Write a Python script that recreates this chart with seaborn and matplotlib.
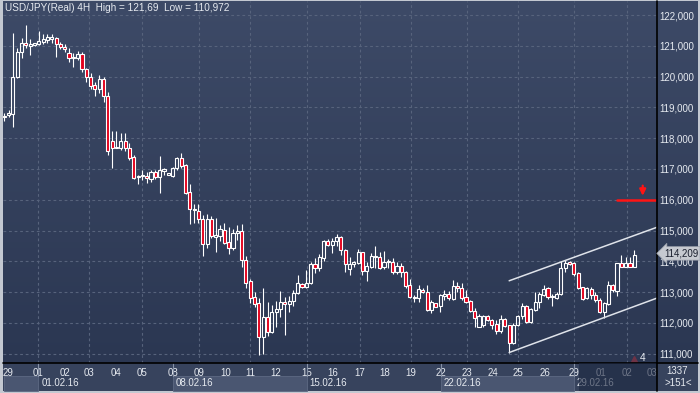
import numpy as np
import pandas as pd
import matplotlib
matplotlib.use('Agg')
import matplotlib.pyplot as plt
from matplotlib.patches import Rectangle
from matplotlib.colors import LinearSegmentedColormap
from matplotlib.transforms import blended_transform_factory
import seaborn as sns

# ---- USD/JPY 4H candles ----
opens = [118.72, 118.75, 118.78, 120.00, 120.81, 121.10, 121.00, 121.03, 121.05, 121.13,
         121.20, 121.22, 121.24, 121.05, 120.97, 120.76, 120.60, 120.61, 120.72, 120.25,
         119.98, 119.73, 119.59, 119.92, 119.38, 117.91, 117.69, 117.69, 117.91, 117.69,
         117.39, 116.74, 116.76, 116.78, 116.68, 116.89, 116.75, 116.95, 116.81, 116.78,
         117.02, 117.35, 117.13, 116.24, 115.69, 115.65, 115.37, 114.56, 115.37, 114.80,
         114.82, 115.02, 114.62, 114.43, 114.91, 114.99, 114.05, 113.36, 112.85, 112.64,
         111.56, 112.18, 111.72, 112.35, 112.44, 112.69, 112.62, 112.72, 112.96, 113.27,
         113.16, 113.29, 113.92, 113.80, 114.12, 114.66, 114.53, 114.66, 114.80, 114.37,
         113.74, 113.90, 113.96, 114.29, 113.70, 113.83, 114.13, 114.15, 113.81, 113.97,
         113.99, 113.64, 113.85, 113.67, 113.23, 112.80, 112.82, 113.07, 113.02, 112.42,
         112.64, 112.56, 112.88, 112.94, 112.78, 113.20, 113.15, 112.83, 112.71, 112.40,
         111.88, 111.94, 112.21, 112.10, 111.97, 111.75, 112.12, 111.94, 111.34, 111.94,
         112.21, 112.55, 112.04, 112.42, 112.69, 112.91, 113.13, 112.83, 112.80, 112.93,
         113.77, 113.99, 113.96, 113.61, 113.16, 112.80, 113.09, 112.91, 112.75, 112.34,
         112.62, 113.23, 113.05, 113.94, 113.83, 113.96, 113.83]
highs = [118.83, 118.92, 121.41, 120.92, 121.24, 121.69, 121.22, 121.10, 121.48, 121.37,
         121.37, 121.37, 121.30, 121.13, 121.05, 120.92, 120.76, 120.83, 120.81, 120.29,
         120.11, 119.83, 120.05, 120.00, 119.51, 118.23, 118.23, 118.16, 118.16, 117.83,
         117.45, 116.81, 116.97, 116.91, 116.97, 116.97, 117.42, 117.02, 116.87, 117.05,
         117.40, 117.51, 117.15, 116.51, 115.86, 115.86, 115.51, 115.54, 115.47, 115.40,
         115.18, 115.26, 115.11, 115.04, 115.18, 115.21, 114.18, 113.42, 113.02, 112.80,
         113.13, 112.67, 112.58, 112.71, 113.04, 112.85, 112.88, 113.07, 113.56, 113.29,
         113.72, 113.99, 114.12, 114.24, 114.69, 114.72, 114.75, 114.89, 114.82, 114.39,
         114.15, 114.02, 114.39, 114.32, 113.99, 114.28, 114.50, 114.32, 114.35, 114.07,
         114.10, 113.99, 113.96, 113.69, 113.42, 112.91, 113.23, 113.13, 113.23, 112.75,
         112.66, 112.94, 113.07, 113.05, 113.40, 113.32, 113.29, 113.07, 112.75, 112.48,
         112.29, 112.26, 112.26, 112.12, 112.10, 112.26, 112.15, 111.95, 111.99, 112.26,
         112.66, 112.58, 112.48, 112.99, 113.02, 113.23, 113.16, 112.94, 113.02, 114.02,
         114.05, 114.02, 113.99, 113.67, 113.18, 113.16, 113.16, 112.99, 112.80, 112.69,
         113.37, 113.27, 113.96, 114.21, 114.13, 114.15, 114.37]
lows = [118.57, 118.70, 118.37, 119.94, 120.59, 120.92, 120.70, 121.00, 121.03, 121.05,
        121.08, 121.08, 120.65, 120.90, 120.81, 120.48, 120.32, 120.54, 120.16, 119.83,
        119.60, 119.38, 119.46, 119.19, 117.45, 117.04, 117.68, 117.62, 117.60, 117.29,
        116.68, 116.50, 116.64, 116.54, 116.59, 116.68, 116.23, 116.81, 116.80, 116.75,
        116.97, 117.02, 116.20, 115.21, 115.26, 115.24, 114.18, 114.43, 114.75, 114.32,
        114.65, 114.56, 114.24, 114.37, 114.69, 113.83, 113.13, 112.66, 112.53, 110.97,
        110.99, 111.58, 111.68, 111.88, 112.20, 111.61, 112.37, 112.55, 112.94, 113.14,
        113.14, 113.27, 113.61, 113.69, 114.02, 114.50, 114.28, 114.50, 114.21, 113.64,
        113.56, 113.81, 113.92, 113.56, 113.37, 113.80, 113.80, 113.74, 113.74, 113.80,
        113.59, 113.59, 113.48, 113.15, 112.80, 112.69, 112.69, 112.96, 112.39, 112.31,
        112.51, 112.37, 112.75, 112.75, 112.75, 113.02, 112.75, 112.66, 112.34, 111.86,
        111.86, 111.88, 112.06, 111.79, 111.64, 111.69, 111.88, 111.04, 111.32, 111.90,
        112.12, 112.01, 112.01, 112.40, 112.48, 112.88, 112.77, 112.55, 112.77, 112.91,
        113.67, 113.88, 113.53, 113.09, 112.75, 112.77, 112.77, 112.69, 112.31, 112.15,
        112.58, 113.02, 112.88, 113.81, 113.81, 113.81, 113.81]
closes = [118.70, 118.81, 120.00, 120.81, 121.08, 121.03, 121.06, 121.08, 121.16, 121.21,
          121.28, 121.27, 121.05, 120.97, 120.90, 120.59, 120.63, 120.72, 120.24, 119.98,
          119.69, 119.59, 119.92, 119.38, 117.59, 117.69, 117.70, 117.91, 117.69, 117.37,
          116.72, 116.77, 116.79, 116.70, 116.89, 116.75, 116.98, 116.99, 116.86, 117.02,
          117.35, 117.11, 116.23, 115.69, 115.66, 115.37, 114.56, 115.37, 114.82, 114.85,
          115.04, 114.61, 114.43, 114.91, 114.99, 114.05, 113.31, 112.82, 112.62, 111.56,
          112.18, 111.72, 112.35, 112.44, 112.69, 112.62, 112.72, 112.96, 113.29, 113.16,
          113.29, 113.92, 113.80, 114.13, 114.66, 114.53, 114.66, 114.78, 114.37, 113.90,
          113.90, 113.99, 114.29, 113.70, 113.85, 114.18, 114.18, 113.77, 113.97, 114.00,
          113.64, 113.85, 113.64, 113.20, 112.85, 112.85, 113.09, 112.99, 112.42, 112.67,
          112.53, 112.91, 112.94, 112.80, 113.20, 113.13, 112.82, 112.69, 112.39, 112.15,
          112.23, 112.21, 112.10, 111.94, 111.75, 112.12, 111.91, 111.34, 111.94, 112.21,
          112.55, 112.04, 112.44, 112.69, 112.94, 113.09, 112.83, 112.85, 112.94, 113.77,
          113.96, 113.92, 113.59, 113.13, 112.77, 113.13, 112.91, 112.73, 112.34, 112.64,
          113.23, 113.07, 113.94, 113.83, 113.96, 113.83, 114.21]

# day labels on the time axis and where each day starts (candle index)
day_labels = ['29', '01', '02', '03', '04', '05', '08', '09', '10', '11', '12', '15', '16',
              '17', '18', '19', '22', '23', '24', '25', '26', '29', '01', '02', '03']
day_pos = [0.9, 7.9, 14.1, 19.7, 25.8, 31.8, 39.0, 45.1, 51.2, 56.9, 63.0, 70.1, 76.2,
           82.4, 88.2, 94.2, 101.1, 107.2, 113.2, 119.1, 125.3, 132.0, 138.2, 144.2, 150.0]
week_labels = ['01.02.16', '08.02.16', '15.02.16', '22.02.16', '29.02.16']
week_pos = [7.9, 39.0, 70.1, 101.1, 132.0]
price_ticks = list(range(111, 123))

# trend channel and resistance level drawn on the chart
channel_x = [117, 151.3]
channel_upper = [113.37, 115.11]
channel_lower = [111.04, 112.81]
level_x = [142.1, 151.3]
level_price = 116.0
last_price = 114.209

df = pd.DataFrame({'open': opens, 'high': highs, 'low': lows, 'close': closes})
df['idx'] = np.arange(len(df))
df['up'] = df['close'] >= df['open']
df['top'] = df[['open', 'close']].max(axis=1)
df['bot'] = df[['open', 'close']].min(axis=1)

# ---- style ----
sns.set_style('dark')
plt.rcParams['font.family'] = ['Liberation Sans', 'DejaVu Sans']
FS = 7.0
plt.rcParams['font.size'] = FS
TXT = '#e6eaf0'

W, H = 700, 393
fig = plt.figure(figsize=(7, 3.93), dpi=100, facecolor='#c3c8d1')

# background gradient behind plot + price panel
bg = fig.add_axes([3 / W, 1 - 363 / H, 695 / W, 362 / H], zorder=-2)
cmap = LinearSegmentedColormap.from_list('bg', ['#2b3752', '#3d4a67'])
bg.imshow(np.linspace(0, 1, 256).reshape(-1, 1)[::-1], aspect='auto', cmap=cmap,
          extent=[0, 1, 0, 1])
bg.axis('off')

# bottom time-axis band
fig.add_artist(Rectangle((3 / W, 1 - 391 / H), 695 / W, 28 / H, transform=fig.transFigure,
                         fc='#37435d', ec='none', zorder=-1))

ax = fig.add_axes([3 / W, 1 - 363 / H, 654 / W, 362 / H])
ax.set_facecolor('none')
ax.set_xlim(-0.30, 151.26)
ax.set_ylim(110.70, 122.455)

# grid
for xv in day_pos[1::2]:
    ax.axvline(xv, color='#57637c', lw=0.8, ls=(0, (2.5, 2.5)), zorder=1)
for yv in price_ticks:
    ax.axhline(yv, color='#57637c', lw=0.8, ls=(0, (2.5, 2.5)), zorder=1)

# candles: wicks above/below body, hollow up bodies, red down bodies
ax.vlines(df['idx'], df['top'], df['high'], color='white', lw=0.8, zorder=3)
ax.vlines(df['idx'], df['low'], df['bot'], color='white', lw=0.8, zorder=3)
body_h = np.maximum(df['top'] - df['bot'], 0.03)
ax.bar(df['idx'], body_h, bottom=df['bot'], width=0.72,
       color=np.where(df['up'], 'none', '#e3001b'), edgecolor='white', linewidth=0.8, zorder=4)

# channel lines
sns.lineplot(x=channel_x, y=channel_upper, ax=ax, color='#dfe3ea', lw=1.1, zorder=5)
sns.lineplot(x=channel_x, y=channel_lower, ax=ax, color='#dfe3ea', lw=1.1, zorder=5)

# resistance level + arrow
ax.plot(level_x, [level_price, level_price], color='#ff1414', lw=1.8, zorder=5)
ax.annotate('', xy=(147.95, level_price + 0.13), xytext=(147.95, level_price + 0.46),
            arrowprops=dict(arrowstyle='-|>', color='#ff1414', lw=1.6, mutation_scale=9,
                            shrinkA=0, shrinkB=0),
            zorder=6)
ax.text(147.85, 110.86, '4', color=TXT, fontsize=FS + 0.3, ha='center', va='center', zorder=6)
ax.plot([145.9], [110.84], marker='^', ms=4, color='#6e3346', zorder=5)

# axes cosmetics
for s in ax.spines.values():
    s.set_visible(False)
ax.axvline(151.26, color='black', lw=1.2, clip_on=False, zorder=7)
ax.axhline(110.70, color='black', lw=1.2, clip_on=False, zorder=7)
fig.add_artist(plt.Line2D([657 / W, 657 / W], [1 - 391 / H, 1 - 363 / H],
                          transform=fig.transFigure, color='black', lw=1.2))
fig.add_artist(plt.Line2D([657 / W, 698 / W], [1 - 363 / H, 1 - 363 / H],
                          transform=fig.transFigure, color='black', lw=1.2))

ax.yaxis.tick_right()
ax.set_yticks(price_ticks)
ax.set_yticklabels([f'{p},000' for p in price_ticks])
ax.set_xticks(day_pos)
ax.set_xticklabels(day_labels)
ax.tick_params(axis='y', length=0, pad=2.0, colors=TXT, labelsize=FS)
ax.tick_params(axis='x', length=0, pad=3.6, colors=TXT, labelsize=FS)
ax.set_xlabel('')
ax.set_ylabel('')

# week boxes, separators and dates on the lower row
tr = blended_transform_factory(ax.transData, ax.transAxes)
px = 1 / 362
for x0, x1 in [(-0.1, week_pos[0]), (week_pos[1], week_pos[2]), (week_pos[3], week_pos[4])]:
    ax.add_patch(Rectangle((x0, -28 * px), x1 - x0, 15 * px, transform=tr, fc='#4a5671',
                           ec='#5d6983', lw=0.6, clip_on=False, zorder=0))
for xv, lab in zip(week_pos, week_labels):
    ax.plot([xv, xv], [0, -13 * px], transform=tr, color='#8792a7', lw=0.8, clip_on=False)
    ax.annotate(lab, xy=(xv, 0), xycoords=tr, xytext=(3, -20), textcoords='offset pixels',
                ha='left', va='center', color=TXT, fontsize=FS, annotation_clip=False)

# future/scroll overlay on the time axis
ax.add_patch(Rectangle((133.2, -28 * px), 151.26 - 133.2, 28 * px, transform=tr,
                       fc='#1c2740', alpha=0.6, ec='none', clip_on=False, zorder=8))

# last price tag (sits over the 114,000 label as in the original)
trp = blended_transform_factory(ax.transAxes, ax.transData)
ax.annotate(f'{last_price:.3f}'.replace('.', ','), xy=(1, last_price + 0.05), xycoords=trp,
            xytext=(7, 0), textcoords='offset pixels', ha='left', va='center',
            color='#1a1f2e', fontsize=FS, annotation_clip=False, zorder=9,
            bbox=dict(boxstyle='larrow,pad=0.18', fc='#c6c9d0', ec='#9aa0ab', lw=0.5))

# title and bottom-right counters
fig.text(5 / W, 1 - 8 / H, 'USD/JPY(Real) 4H  High = 121,69  Low = 110,972', color=TXT,
         fontsize=FS + 0.2, ha='left', va='center')
fig.text(677 / W, 1 - 371 / H, '1337', color=TXT, fontsize=FS, ha='center', va='center')
fig.text(678 / W, 1 - 383 / H, '>151<', color=TXT, fontsize=FS, ha='center', va='center')

fig.savefig('out.png', dpi=100, facecolor=fig.get_facecolor())
